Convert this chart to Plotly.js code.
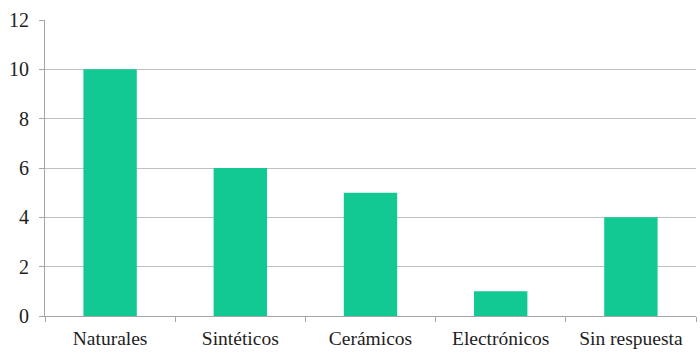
<!DOCTYPE html>
<html>
<head>
<meta charset="utf-8">
<script src="https://cdn.plot.ly/plotly-3.0.1.min.js"></script>
<style>html,body{margin:0;padding:0;background:#fff;}#chart{width:700px;height:356px;}</style>
</head>
<body>
<div id="chart"></div>
<script>
const categories = ["Naturales", "Sintéticos", "Cerámicos", "Electrónicos", "Sin respuesta"];
const values = [10, 6, 5, 1, 4];
const yTicks = [0, 2, 4, 6, 8, 10, 12];

const serif = 'Liberation Serif, Times New Roman, serif';

const trace = {
  type: 'bar',
  x: categories,
  y: values,
  marker: {color: '#12c994'},
  hoverinfo: 'x+y'
};

const layout = {
  width: 700,
  height: 356,
  margin: {l: 45, r: 4, t: 20, b: 40},
  paper_bgcolor: '#ffffff',
  plot_bgcolor: '#ffffff',
  bargap: 0.59,
  showlegend: false,
  font: {family: serif, size: 17, color: '#1e1e1e'},
  xaxis: {
    type: 'category',
    showline: true,
    linecolor: '#a6a6a6',
    linewidth: 1,
    ticks: 'outside',
    tickson: 'boundaries',
    ticklen: 5,
    tickcolor: '#a6a6a6',
    showgrid: false,
    tickfont: {family: serif, size: 19.5, color: '#1e1e1e'},
    ticklabelstandoff: 5
  },
  yaxis: {
    range: [0, 12],
    tickvals: yTicks,
    ticktext: yTicks.map(String),
    showline: true,
    linecolor: '#a6a6a6',
    linewidth: 1,
    ticks: 'outside',
    ticklen: 5,
    tickcolor: '#a6a6a6',
    showgrid: true,
    gridcolor: '#bfbfbf',
    gridwidth: 1,
    zeroline: false,
    tickfont: {family: serif, size: 20, color: '#1e1e1e'},
    ticklabelstandoff: 6
  }
};

Plotly.newPlot('chart', [trace], layout, {displayModeBar: false, staticPlot: true});
</script>
</body>
</html>
